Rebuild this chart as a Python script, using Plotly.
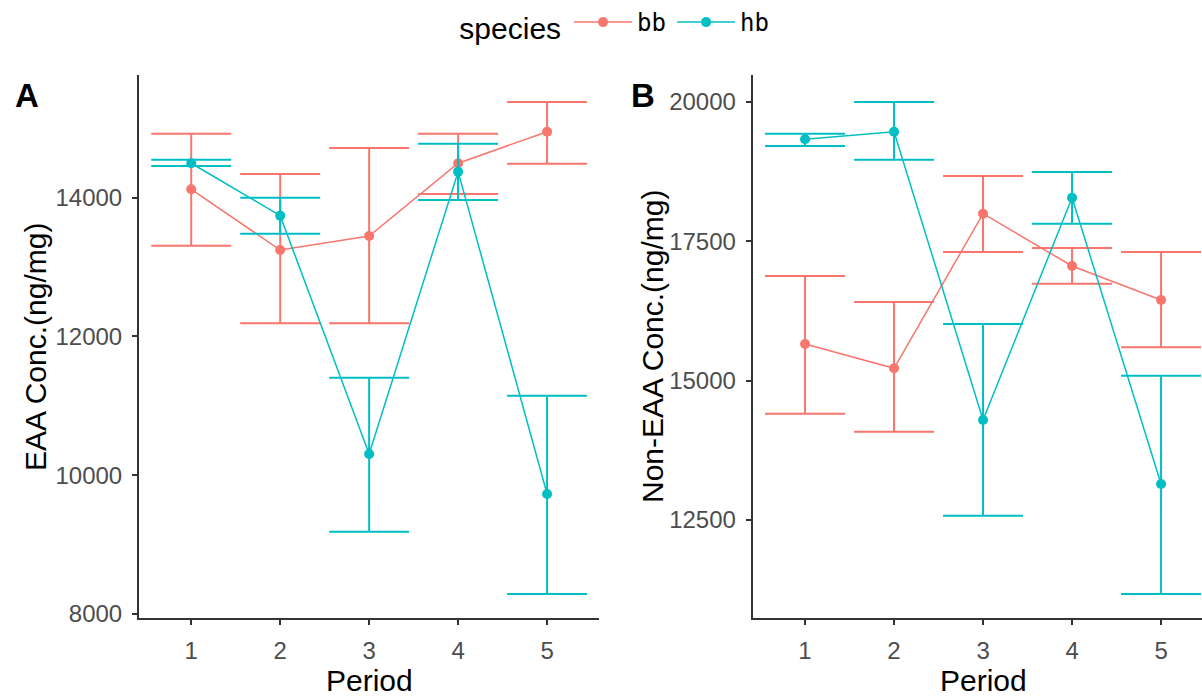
import plotly.graph_objects as go

periods = [1, 2, 3, 4, 5]
species = ["bb", "hb"]
colors = {"bb": "#F8766D", "hb": "#00BFC4"}

# Panel A: EAA concentration (ng/mg)
eaa_bb_mean = [14121, 13246, 13448, 14496, 14951]
eaa_bb_upper = [14922, 14342, 14716, 14922, 15379]
eaa_bb_lower = [13308, 12190, 12190, 14053, 14490]
eaa_hb_mean = [14496, 13741, 10306, 14375, 9730]
eaa_hb_upper = [14548, 14000, 11406, 14778, 11146]
eaa_hb_lower = [14457, 13481, 9186, 13967, 8288]

# Panel B: Non-EAA concentration (ng/mg)
neaa_bb_mean = [15658, 15222, 17996, 17057, 16447]
neaa_bb_upper = [16878, 16411, 18672, 17380, 17309]
neaa_bb_lower = [14407, 14084, 17309, 16740, 15599]
neaa_hb_mean = [19331, 19467, 14294, 18283, 13146]
neaa_hb_upper = [19431, 20000, 16017, 18744, 15089]
neaa_hb_lower = [19211, 18965, 12577, 17816, 11172]

eaa_ticks = [8000, 10000, 12000, 14000]
neaa_ticks = [12500, 15000, 17500, 20000]

panels = [
    ("x", "y", {"bb": (eaa_bb_mean, eaa_bb_upper, eaa_bb_lower),
                "hb": (eaa_hb_mean, eaa_hb_upper, eaa_hb_lower)}, True),
    ("x2", "y2", {"bb": (neaa_bb_mean, neaa_bb_upper, neaa_bb_lower),
                  "hb": (neaa_hb_mean, neaa_hb_upper, neaa_hb_lower)}, False),
]

fig = go.Figure()
for xa, ya, data, show in panels:
    for sp in species:
        mean, up, lo = data[sp]
        fig.add_trace(go.Scatter(
            x=periods, y=mean, xaxis=xa, yaxis=ya,
            mode="lines+markers", name=sp, showlegend=show,
            line=dict(color=colors[sp], width=1.5),
            marker=dict(color=colors[sp], size=10),
            error_y=dict(type="data", symmetric=False,
                         array=[u - m for u, m in zip(up, mean)],
                         arrayminus=[m - l for m, l in zip(mean, lo)],
                         color=colors[sp], thickness=2, width=40),
        ))

tickfont = dict(family="Liberation Sans, Arial", size=24, color="#4D4D4D")
axis_common = dict(showline=True, linecolor="#333333", linewidth=2,
                   ticks="outside", ticklen=5, tickwidth=2, tickcolor="#333333",
                   showgrid=False, zeroline=False, tickfont=tickfont,
                   ticklabelstandoff=5, automargin=False, tickformat="d")

fig.update_layout(
    width=1202, height=698,
    margin=dict(l=0, r=0, t=0, b=0, autoexpand=False),
    paper_bgcolor="white", plot_bgcolor="white",
    font=dict(family="Liberation Sans, Arial", color="black"),
    xaxis=dict(domain=[139/1202, 599.3/1202], range=[0.413, 5.587],
               tickvals=periods, anchor="y", **axis_common),
    yaxis=dict(domain=[1-617.7/698, 1-75/698], range=[7947, 15768],
               tickvals=eaa_ticks, anchor="x", **axis_common),
    xaxis2=dict(domain=[752.7/1202, 1.0], range=[0.412, 5.46],
                tickvals=periods, anchor="y2", **axis_common),
    yaxis2=dict(domain=[1-617.7/698, 1-75/698], range=[10747, 20484],
                tickvals=neaa_ticks, anchor="x2", **axis_common),
    legend=dict(orientation="h", x=0.3805, xanchor="left", y=1.0, yanchor="top",
                title=dict(text="species", side="left",
                           font=dict(family="Liberation Sans, Arial", size=30, color="black")),
                font=dict(family="DejaVu Sans Mono", size=24, color="black"),
                bgcolor="rgba(0,0,0,0)", itemwidth=58, entrywidth=30),
)

title_font = dict(family="Liberation Sans, Arial", size=30, color="black")
annotations = [
    dict(text="EAA Conc.(ng/mg)", x=35, y=347, textangle=-90),
    dict(text="Non-EAA Conc.(ng/mg)", x=652, y=347, textangle=-90),
    dict(text="Period", x=369, y=680, textangle=0),
    dict(text="Period", x=983, y=680, textangle=0),
]
for a in annotations:
    fig.add_annotation(text=a["text"], xref="paper", yref="paper",
                       x=a["x"]/1202, y=1-a["y"]/698, xanchor="center", yanchor="middle",
                       textangle=a["textangle"], showarrow=False, font=title_font)

for lab, x in [("A", 26.5), ("B", 642.5)]:
    fig.add_annotation(text="<b>%s</b>" % lab, xref="paper", yref="paper",
                       x=x/1202, y=1-96/698, xanchor="center", yanchor="middle",
                       showarrow=False,
                       font=dict(family="Liberation Sans, Arial", size=33, color="black"))

fig.write_html("out.html", config={"displayModeBar": False},
               post_script="document.body.style.margin='0';document.body.style.overflow='hidden';")
